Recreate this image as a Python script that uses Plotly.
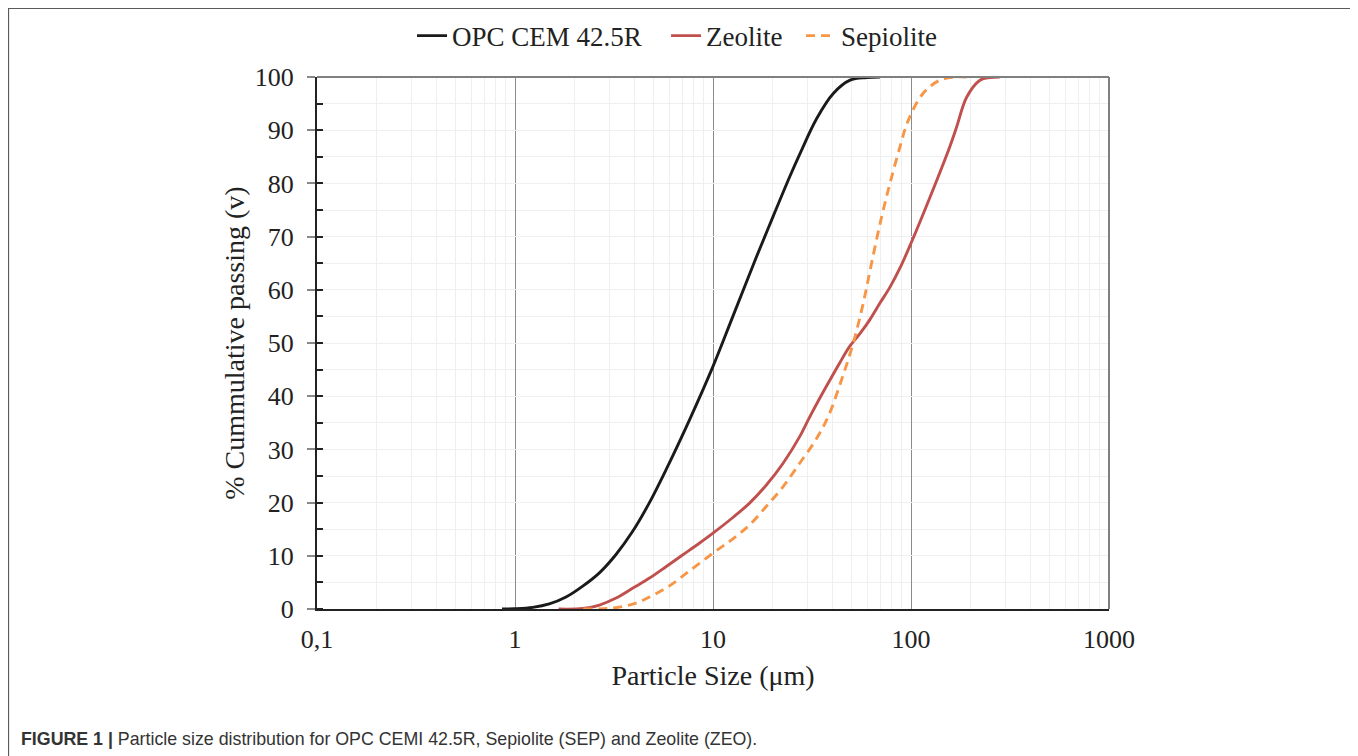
import plotly.graph_objects as go

# ---- data ----
opc_x = [0.86, 1.0, 1.23, 1.49, 1.81, 2.19, 2.66, 3.23, 3.93, 4.76, 5.78, 7.62, 10, 12.6,
         16.6, 20.1, 24.4, 27.5, 33.4, 40.5, 49.2, 59.7, 69.7]
opc_y = [0, 0.05, 0.3, 0.95, 2.25, 4.25, 6.75, 10.2, 14.6, 19.9, 26.1, 35.6, 45.6, 55.0,
         66.25, 73.75, 81.25, 85.6, 92.2, 96.9, 99.4, 99.9, 100]

zeo_x = [1.66, 2.2, 2.67, 3.24, 3.94, 4.78, 5.81, 7.05, 8.56, 10, 12.6, 15.3, 18.6, 22.6,
         27.4, 30.3, 34.7, 38.9, 43.7, 49.1, 55.2, 62.0, 69.7, 78.3, 88, 100, 125, 157,
         170, 191, 223, 250, 281]
zeo_y = [0, 0.1, 0.75, 2.06, 3.94, 5.81, 8.0, 10.2, 12.4, 14.25, 17.2, 19.9, 23.3, 27.4,
         32.4, 35.6, 39.7, 43.0, 46.3, 49.4, 51.75, 54.4, 57.5, 60.5, 64.1, 68.75, 77.5,
         86.9, 90.6, 96.2, 99.4, 99.9, 100]

sep_x = [2.21, 3.14, 4.0, 4.81, 6.0, 7.5, 10, 12.6, 15.3, 18.6, 22.6, 27.4, 33.3, 38.2,
         44.6, 51.1, 57.4, 63.2, 71.1, 78.3, 88, 97, 115, 140, 170, 191]
sep_y = [0, 0.2, 1.0, 2.3, 4.3, 7.0, 10.5, 13.2, 15.8, 19.3, 23.0, 27.4, 32.0, 36.2,
         43.1, 50.0, 57.5, 65.0, 73.75, 80.0, 86.9, 91.9, 96.9, 99.4, 100, 100]

x_tickvals = [0.1, 1, 10, 100, 1000]
x_ticktext = ["0,1", "1", "10", "100", "1000"]
y_tickvals = [0, 10, 20, 30, 40, 50, 60, 70, 80, 90, 100]

SERIF = "Liberation Serif, Times New Roman, serif"
TXT = "#222"

fig = go.Figure()
fig.add_trace(go.Scatter(x=opc_x, y=opc_y, name="OPC CEM 42.5R", mode="lines", legendwidth=209,
                         line=dict(color="#1a1a1a", width=2.9, shape="spline", smoothing=1.0)))
fig.add_trace(go.Scatter(x=zeo_x, y=zeo_y, name="Zeolite", mode="lines", legendwidth=90,
                         line=dict(color="#c0504d", width=2.9, shape="spline", smoothing=1.0)))
fig.add_trace(go.Scatter(x=sep_x, y=sep_y, name="Sepiolite", mode="lines",
                         line=dict(color="#f79646", width=2.9, dash="9px,6px",
                                   shape="spline", smoothing=1.0)))

# page body has an 8px margin, so margins are offset by 8px
fig.update_layout(
    width=1358, height=756,
    margin=dict(l=309, r=257, t=69, b=155, autoexpand=False),
    paper_bgcolor="white", plot_bgcolor="white",
    font=dict(family=SERIF, size=26, color=TXT),
    showlegend=True,
    legend=dict(orientation="h", x=0.12, xanchor="left", y=1.077, yanchor="middle",
                font=dict(family=SERIF, size=27, color=TXT),
                itemwidth=30, tracegroupgap=0, bgcolor="rgba(0,0,0,0)"),
    xaxis=dict(type="log", range=[-1, 3], tickvals=x_tickvals, ticktext=x_ticktext,
               showgrid=True, gridcolor="#8c8c8c", gridwidth=1,
               showline=True, linecolor=TXT, linewidth=2, ticks="",
               tickfont=dict(family=SERIF, size=26, color=TXT),
               ticklabelstandoff=6,
               minor=dict(dtick="D1", showgrid=True, gridcolor="#efefef", gridwidth=1, ticks=""),
               title=dict(text="Particle Size (μm)", font=dict(family=SERIF, size=28, color=TXT),
                          standoff=12),
               zeroline=False),
    yaxis=dict(range=[0, 100], tickvals=y_tickvals,
               showgrid=True, gridcolor="#efefef", gridwidth=1,
               showline=True, linecolor=TXT, linewidth=2,
               ticks="outside", ticklen=8, tickcolor="#888", tickwidth=2,
               tickfont=dict(family=SERIF, size=26, color=TXT),
               ticklabelstandoff=8,
               minor=dict(dtick=5, showgrid=True, gridcolor="#efefef", ticks="inside",
                          ticklen=6, tickcolor=TXT, tickwidth=1.5),
               title=dict(text="% Cummulative passing (v)", font=dict(family=SERIF, size=28, color=TXT),
                          standoff=2),
               zeroline=False),
)

# plot-area top/right border (gray)
fig.add_shape(type="line", xref="paper", yref="paper", x0=0, x1=1, y0=1, y1=1,
              line=dict(color="#808080", width=2))
fig.add_shape(type="line", xref="paper", yref="paper", x0=1, x1=1, y0=0, y1=1,
              line=dict(color="#808080", width=2))

# outer figure frame (left, top, right)
fx0, fx1, fy_top, fy_bot = -0.390, 1.3106, 1.1297, -0.32
frame = dict(color="#5a5a5a", width=2)
fig.add_shape(type="line", xref="paper", yref="paper", x0=fx0, x1=fx1, y0=fy_top, y1=fy_top, line=frame)
fig.add_shape(type="line", xref="paper", yref="paper", x0=fx0, x1=fx0, y0=fy_bot, y1=fy_top, line=frame)
fig.add_shape(type="line", xref="paper", yref="paper", x0=fx1, x1=fx1, y0=fy_bot, y1=fy_top, line=frame)

# caption
fig.add_annotation(xref="paper", yref="paper", x=-0.3765, y=-0.244, xanchor="left", yanchor="middle",
                   showarrow=False, align="left",
                   text="<b>FIGURE 1 |</b> Particle size distribution for OPC CEMI 42.5R, Sepiolite (SEP) and Zeolite (ZEO).",
                   font=dict(family="Liberation Sans Narrow, Liberation Sans, Arial, sans-serif", size=17.8, color="#333"))

fig.write_html("out.html")
